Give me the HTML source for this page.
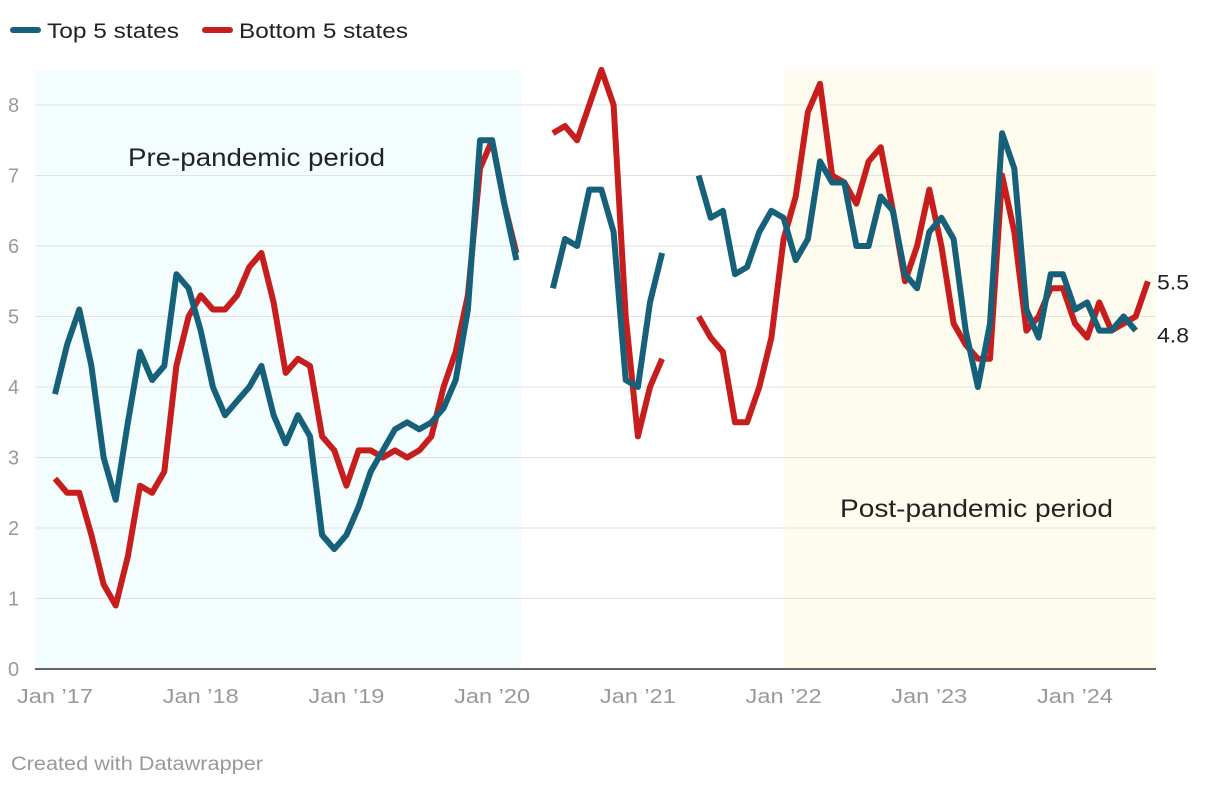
<!DOCTYPE html>
<html><head><meta charset="utf-8"><style>
body{margin:0;background:#fff;font-family:"Liberation Sans",Arial,sans-serif;}
svg text{font-family:"Liberation Sans",Arial,sans-serif;}
</style></head><body>
<svg id="chart" width="1220" height="786" xmlns="http://www.w3.org/2000/svg">
<g id="legend">
<g><line x1="13" y1="30" x2="38" y2="30" stroke="#17607a" stroke-width="6" stroke-linecap="round"/><text x="47" y="38" font-size="21" fill="#222" textLength="132" lengthAdjust="spacingAndGlyphs">Top 5 states</text></g>
<g><line x1="205" y1="30" x2="230" y2="30" stroke="#c71e1d" stroke-width="6" stroke-linecap="round"/><text x="239" y="38" font-size="21" fill="#222" textLength="169" lengthAdjust="spacingAndGlyphs">Bottom 5 states</text></g>
</g>
<g id="plot"></g>
<text x="11" y="770" font-size="19" fill="#999" textLength="252" lengthAdjust="spacingAndGlyphs">Created with Datawrapper</text>
</svg>
<script>
const yTicks=[0,1,2,3,4,5,6,7,8];
const xTickLabels=["Jan ’17","Jan ’18","Jan ’19","Jan ’20","Jan ’21","Jan ’22","Jan ’23","Jan ’24"];
const topSeg1=[3.9,4.6,5.1,4.3,3.0,2.4,3.5,4.5,4.1,4.3,5.6,5.4,4.8,4.0,3.6,3.8,4.0,4.3,3.6,3.2,3.6,3.3,1.9,1.7,1.9,2.3,2.8,3.1,3.4,3.5,3.4,3.5,3.7,4.1,5.1,7.5,7.5,6.6,5.8];
const topSeg2=[5.4,6.1,6.0,6.8,6.8,6.2,4.1,4.0,5.2,5.9];
const topSeg3=[7.0,6.4,6.5,5.6,5.7,6.2,6.5,6.4,5.8,6.1,7.2,6.9,6.9,6.0,6.0,6.7,6.5,5.6,5.4,6.2,6.4,6.1,4.8,4.0,4.9,7.6,7.1,5.1,4.7,5.6,5.6,5.1,5.2,4.8,4.8,5.0,4.8];
const botSeg1=[2.7,2.5,2.5,1.9,1.2,0.9,1.6,2.6,2.5,2.8,4.3,5.0,5.3,5.1,5.1,5.3,5.7,5.9,5.2,4.2,4.4,4.3,3.3,3.1,2.6,3.1,3.1,3.0,3.1,3.0,3.1,3.3,4.0,4.5,5.3,7.1,7.5,6.6,5.9];
const botSeg2=[7.6,7.7,7.5,8.0,8.5,8.0,5.0,3.3,4.0,4.4];
const botSeg3=[5.0,4.7,4.5,3.5,3.5,4.0,4.7,6.1,6.7,7.9,8.3,7.0,6.9,6.6,7.2,7.4,6.5,5.5,6.0,6.8,6.0,4.9,4.6,4.4,4.4,7.0,6.2,4.8,5.0,5.4,5.4,4.9,4.7,5.2,4.8,4.9,5.0,5.5];
const segStarts=[0,41,53];

const x=m=>55+m*(1075-55)/84;
const y=v=>669-v*(669-105)/8;
const NS="http://www.w3.org/2000/svg";
const plot=document.getElementById('plot');
function mk(tag,attrs){const e=document.createElementNS(NS,tag);for(const k in attrs)e.setAttribute(k,attrs[k]);plot.appendChild(e);return e;}

let r=mk('rect',{x:35,y:70,width:486,height:599,fill:'#f3fdfd'});


r=mk('rect',{x:x(60),y:70,width:1156-x(60),height:599,fill:'#fefcef'});



yTicks.forEach(t=>{
 const l=mk('line',{x1:35,x2:1156,y1:y(t),y2:y(t),stroke:t===0?'#333':'#e2e2e2','stroke-width':t===0?1.5:1});
 
 
 const tx=mk('text',{x:8,y:y(t)+7,'font-size':20,fill:'#999'});tx.textContent=t;
 
 
});
xTickLabels.forEach((s,i)=>{
 const tx=mk('text',{x:x(i*12),y:703,'font-size':20,fill:'#999','text-anchor':'middle',textLength:76,lengthAdjust:'spacingAndGlyphs'});tx.textContent=s;
 
 
});
let a=mk('text',{x:128,y:166,'font-size':25,fill:'#222',textLength:257,lengthAdjust:'spacingAndGlyphs'});a.textContent='Pre-pandemic period';


a=mk('text',{x:840,y:517,'font-size':25,fill:'#222',textLength:273,lengthAdjust:'spacingAndGlyphs'});a.textContent='Post-pandemic period';



function line(vals,start,color,name){
 const d=vals.map((v,i)=>(i?'L':'M')+x(start+i).toFixed(1)+','+y(v).toFixed(1)).join('');
 const p=mk('path',{d,fill:'none',stroke:color,'stroke-width':6,'stroke-linejoin':'round','stroke-linecap':'butt'});
 
 
}
[botSeg1,botSeg2,botSeg3].forEach((s,i)=>line(s,segStarts[i],'#c71e1d','bottom-5-line'));
[topSeg1,topSeg2,topSeg3].forEach((s,i)=>line(s,segStarts[i],'#17607a','top-5-line'));
const lb=botSeg3[botSeg3.length-1], lt=topSeg3[topSeg3.length-1];
a=mk('text',{x:1157,y:y(lb)+8,'font-size':21,fill:'#222',textLength:32,lengthAdjust:'spacingAndGlyphs'});a.textContent=lb.toFixed(1);


a=mk('text',{x:1157,y:y(lt)+8+4,'font-size':21,fill:'#222',textLength:32,lengthAdjust:'spacingAndGlyphs'});a.textContent=lt.toFixed(1);


</script>
</body></html>
